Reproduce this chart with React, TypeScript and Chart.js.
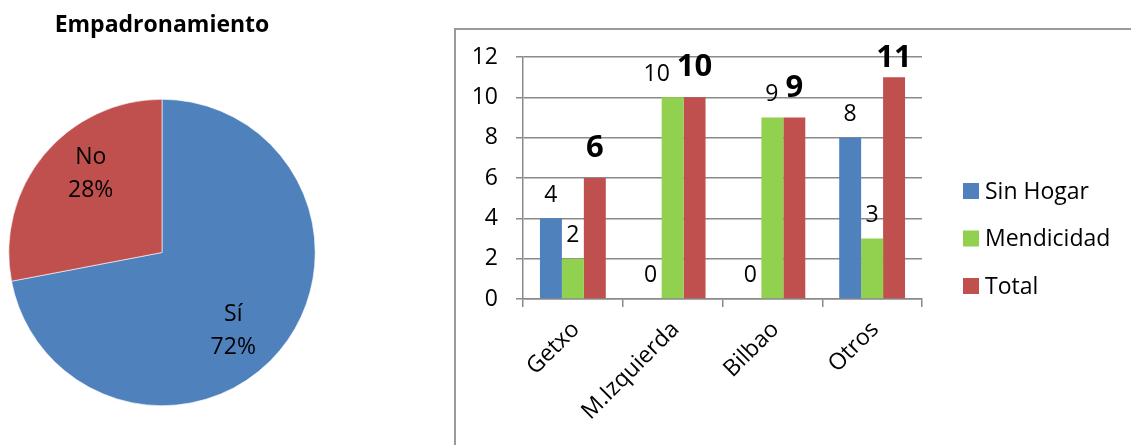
import React, { useEffect, useRef } from "react";
import { Chart, registerables } from "chart.js";

Chart.register(...registerables);

const FONT = "'Open Sans', Lato, sans-serif";
const GRID = "#8a8a8a";

// Pie data
const pieTitle = "Empadronamiento";
const pieLabels = ["Sí", "No"];
const pieValues = [72, 28];
const pieColors = ["#4F81BD", "#C0504D"];

// Bar data
const categories = ["Getxo", "M.Izquierda", "Bilbao", "Otros"];
const seriesNames = ["Sin Hogar", "Mendicidad", "Total"];
const sinHogar = [4, 0, 0, 8];
const mendicidad = [2, 10, 9, 3];
const total = [6, 10, 9, 11];
const seriesColors = ["#4F81BD", "#92D050", "#C0504D"];
const yMin = 0;
const yMax = 12;
const yStep = 2;

const pieLabelPlugin = {
  id: "pieLabels",
  afterDatasetsDraw(chart: any) {
    const ctx = chart.ctx;
    const meta = chart.getDatasetMeta(0);
    const sum = (chart.data.datasets[0].data as number[]).reduce((a, b) => a + b, 0);
    let cxTitle = chart.width / 2;
    ctx.save();
    meta.data.forEach((arc: any, i: number) => {
      const p = arc.getProps(["x", "y", "startAngle", "endAngle", "outerRadius"], true);
      cxTitle = p.x;
      const mid = (p.startAngle + p.endAngle) / 2 + (8 * Math.PI) / 180;
      const r = p.outerRadius * 0.69;
      const cx = p.x + Math.cos(mid) * r;
      const cy = p.y + Math.sin(mid) * r;
      const v = chart.data.datasets[0].data[i] as number;
      ctx.font = `23px ${FONT}`;
      ctx.fillStyle = "#000";
      ctx.textAlign = "center";
      ctx.textBaseline = "middle";
      ctx.fillText(String(chart.data.labels[i]), cx, cy - 16.5);
      ctx.fillText(Math.round((v / sum) * 100) + "%", cx, cy + 16.5);
    });
    ctx.font = `bold 23px ${FONT}`;
    ctx.fillStyle = "#000";
    ctx.textAlign = "center";
    ctx.textBaseline = "alphabetic";
    ctx.fillText(pieTitle, cxTitle, 32);
    ctx.restore();
  },
};

const barLabelPlugin = {
  id: "barLabels",
  afterDatasetsDraw(chart: any) {
    const ctx = chart.ctx;
    const area = chart.chartArea;
    ctx.save();
    categories.forEach((_, j) => {
      const items = chart.data.datasets.map((ds: any, i: number) => {
        const el = chart.getDatasetMeta(i).data[j];
        const bold = i === 2;
        const font = bold ? `bold 31px ${FONT}` : `23px ${FONT}`;
        ctx.font = font;
        const text = String(ds.data[j]);
        const w = ctx.measureText(text).width;
        const capH = bold ? 22.1 : 16.4;
        let cy = el.y - (bold ? 32 : 25);
        if (bold) cy = Math.max(cy, area.top - 1);
        return { x: el.x, cy, w, capH, text, font };
      });
      const g = items[1];
      const t = items[2];
      const gap = 7;
      if (
        Math.abs(g.cy - t.cy) < (g.capH + t.capH) / 2 &&
        g.x + g.w / 2 > t.x - t.w / 2 - gap
      ) {
        g.x = t.x - t.w / 2 - gap - g.w / 2;
      }
      items.forEach((it: any) => {
        ctx.font = it.font;
        ctx.fillStyle = "#000";
        ctx.textAlign = "center";
        ctx.textBaseline = "alphabetic";
        ctx.fillText(it.text, it.x, it.cy + it.capH / 2);
      });
    });
    ctx.restore();
  },
};

const legendPlugin = {
  id: "customLegend",
  afterDraw(chart: any) {
    const ctx = chart.ctx;
    const area = chart.chartArea;
    const x0 = area.right + 41;
    const y0 = 161;
    const step = 47.5;
    ctx.save();
    chart.data.datasets.forEach((ds: any, i: number) => {
      const y = y0 + i * step;
      ctx.fillStyle = ds.backgroundColor;
      ctx.fillRect(x0, y - 8, 16, 16);
      ctx.font = `23px ${FONT}`;
      ctx.fillStyle = "#000";
      ctx.textAlign = "left";
      ctx.textBaseline = "middle";
      ctx.fillText(ds.label, x0 + 22, y + 1);
    });
    ctx.restore();
  },
};

function PieChart() {
  const ref = useRef<HTMLCanvasElement | null>(null);
  useEffect(() => {
    if (!ref.current) return;
    const chart = new Chart(ref.current, {
      type: "pie",
      data: {
        labels: pieLabels,
        datasets: [
          {
            data: pieValues,
            backgroundColor: pieColors,
            borderColor: "#ffffff",
            borderWidth: 0.6,
          },
        ],
      },
      options: {
        responsive: false,
        animation: false,
        layout: { padding: { left: 8, top: 99, right: 14, bottom: 39 } },
        plugins: {
          legend: { display: false },
          tooltip: { enabled: false },
          title: { display: false },
        },
      },
      plugins: [pieLabelPlugin],
    });
    return () => chart.destroy();
  }, []);
  return (
    <canvas
      ref={ref}
      width={330}
      height={445}
      style={{ position: "absolute", left: 0, top: 0, width: 330, height: 445 }}
    />
  );
}

function BarChart() {
  const ref = useRef<HTMLCanvasElement | null>(null);
  useEffect(() => {
    if (!ref.current) return;
    const seriesData = [sinHogar, mendicidad, total];
    const chart = new Chart(ref.current, {
      type: "bar",
      data: {
        labels: categories,
        datasets: seriesNames.map((name, i) => ({
          label: name,
          data: seriesData[i],
          backgroundColor: seriesColors[i],
          borderWidth: 0,
          categoryPercentage: 0.66,
          barPercentage: 1,
        })),
      },
      options: {
        responsive: false,
        animation: false,
        layout: { padding: { top: 27, right: 209, left: 0, bottom: 0 } },
        plugins: {
          legend: { display: false },
          tooltip: { enabled: false },
          title: { display: false },
        },
        scales: {
          x: {
            grid: {
              drawOnChartArea: false,
              drawTicks: true,
              tickLength: 8,
              color: GRID,
              lineWidth: 1.5,
              offset: true,
            },
            border: { color: GRID, width: 1.5 },
            ticks: {
              font: { family: FONT, size: 23 },
              color: "#000",
              minRotation: 45,
              maxRotation: 45,
              autoSkip: false,
              padding: 9,
              labelOffset: 3,
            },
            afterFit: (s: any) => {
              s.height = 146;
              s.paddingLeft = 0;
              s.paddingRight = 0;
            },
          },
          y: {
            min: yMin,
            max: yMax,
            ticks: {
              stepSize: yStep,
              font: { family: FONT, size: 23 },
              color: "#000",
              padding: 18,
            },
            grid: { color: GRID, lineWidth: 1.5, tickLength: 7, drawTicks: true },
            border: { color: GRID, width: 1.5 },
            afterFit: (s: any) => {
              s.width = 67;
              s.paddingTop = 0;
              s.paddingBottom = 0;
            },
          },
        },
      },
      plugins: [barLabelPlugin, legendPlugin],
    });
    return () => chart.destroy();
  }, []);
  return (
    <canvas
      ref={ref}
      width={675}
      height={415}
      style={{ position: "absolute", left: 456, top: 30, width: 675, height: 415 }}
    />
  );
}

export default function App() {
  return (
    <div
      style={{
        position: "fixed",
        left: 0,
        top: 0,
        width: 1131,
        height: 445,
        overflow: "hidden",
        background: "#ffffff",
      }}
    >
      <PieChart />
      <div
        style={{
          position: "absolute",
          left: 454,
          top: 28,
          width: 720,
          height: 460,
          borderLeft: "2px solid #9a9a9a",
          borderTop: "2px solid #9a9a9a",
          boxSizing: "border-box",
        }}
      />
      <BarChart />
    </div>
  );
}
